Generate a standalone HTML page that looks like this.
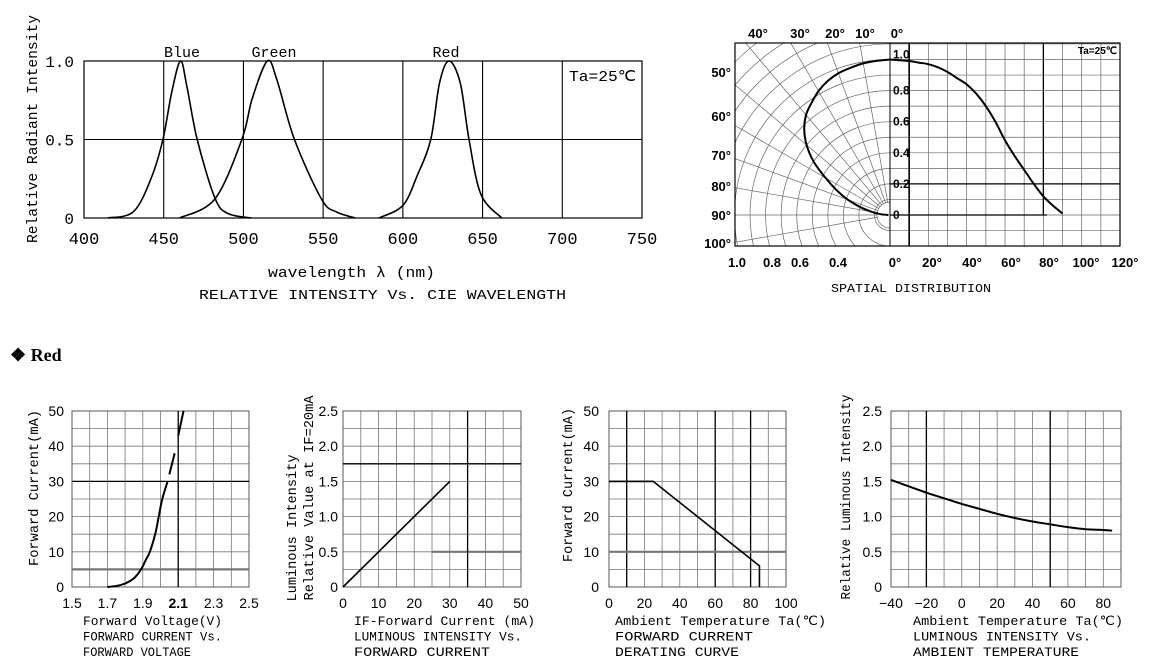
<!DOCTYPE html>
<html><head><meta charset="utf-8"><style>
html,body{margin:0;padding:0;background:#fff;}
svg{display:block;}
.mono{font-family:"Liberation Mono",monospace;}
.sans{font-family:"Liberation Sans",sans-serif;}
.serif{font-family:"Liberation Serif",serif;}
</style></head><body>
<svg id="root" width="1152" height="670" viewBox="0 0 1152 670" xmlns="http://www.w3.org/2000/svg">
<defs><clipPath id="polclip"><rect x="735" y="43" width="155" height="203"/></clipPath></defs>
<g id="g1"></g>
<g id="g2"></g>
<text x="10" y="361" class="serif" font-size="18" font-weight="bold">❖ Red</text>
<g id="gA"></g>
<g id="gB"></g>
<g id="gC"></g>
<g id="gD"></g>
</svg>
<script>
// ---- data ----
const blueWl = [415,431,442,449.5,455,460.5,464.5,471,482,490,505];
const blueVal = [0,0.04,0.25,0.5,0.8,1.0,0.84,0.5,0.13,0.03,0];
const greenWl = [460,482,499,505.5,515,521,532,549,558,570];
const greenVal = [0,0.12,0.5,0.76,1.0,0.88,0.5,0.12,0.04,0];
const redWl = [585,600,609,617.5,623,629,636,641.5,649,662];
const redVal = [0,0.08,0.27,0.5,0.86,1.0,0.86,0.5,0.15,0];
const spectrumXTicks = [400,450,500,550,600,650,700,750];
const spectrumYTicks = [0,0.5,1.0];
const spatialAngles = [0,5,10,15,20,25,30,35,40,45,50,55,60,65,70,75,80,85,90];
const spatialValues = [1.0,0.995,0.99,0.98,0.97,0.95,0.92,0.88,0.84,0.78,0.70,0.60,0.48,0.38,0.29,0.20,0.12,0.06,0.01];
const ivVoltage = [1.70,1.75,1.80,1.85,1.89,1.92,1.94,1.97,1.99,2.01,2.04];
const ivCurrent = [0,0.3,1,2.5,5,8,10,15,20,25,30];
const ivDash1V = [2.05,2.08]; const ivDash1I = [32,38];
const ivDash2V = [2.10,2.13]; const ivDash2I = [43,50];
const lumCurrent = [0,30]; const lumValue = [0,1.5];
const deratTemp = [0,25,85,85]; const deratCurrent = [30,30,6,0];
const tempAxis = [-40,-30,-20,-10,0,10,20,30,40,50,60,70,80,85];
const tempLum = [1.52,1.43,1.34,1.26,1.18,1.11,1.04,0.98,0.93,0.89,0.85,0.82,0.81,0.80];

const NS="http://www.w3.org/2000/svg";
function el(parent,tag,attrs){const e=document.createElementNS(NS,tag);for(const k in attrs)e.setAttribute(k,attrs[k]);parent.appendChild(e);return e;}
function line(p,x1,y1,x2,y2,st,w){return el(p,'line',{x1,y1,x2,y2,stroke:st||'#000','stroke-width':w||1});}
function txt(p,x,y,s,cls,size,anchor,len,extra){const t=el(p,'text',{x,y,'class':cls,'font-size':size,'text-anchor':anchor||'start'});if(len){t.setAttribute('textLength',len);t.setAttribute('lengthAdjust','spacingAndGlyphs');}if(extra)for(const k in extra)t.setAttribute(k,extra[k]);t.textContent=s;return t;}
function smooth(pts){if(pts.length<3)return 'M'+pts.map(p=>p.join(',')).join('L');let d='M'+pts[0][0]+','+pts[0][1];for(let i=0;i<pts.length-1;i++){const p0=pts[i-1]||pts[i],p1=pts[i],p2=pts[i+1],p3=pts[i+2]||p2;const c1=[p1[0]+(p2[0]-p0[0])/6,p1[1]+(p2[1]-p0[1])/6],c2=[p2[0]-(p3[0]-p1[0])/6,p2[1]-(p3[1]-p1[1])/6];d+='C'+c1+' '+c2+' '+p2;}return d;}

// ---- Chart 1 ----
(function(){
const g=document.getElementById('g1');
const X=v=>84+(v-400)*558/350, Y=v=>218-v*157;
const r=el(g,'rect',{x:84,y:61,width:558,height:157,fill:'none',stroke:'#000','stroke-width':1.2});

spectrumXTicks.forEach(v=>{if(v>400&&v<750){const l=line(g,X(v),61,X(v),218,'#000',1.1);}
 const t=txt(g,X(v),244,String(v),'mono',17,'middle');});
spectrumYTicks.forEach(v=>{if(v>0&&v<1){const l=line(g,84,Y(v),642,Y(v),'#000',1.1);}
 const t=txt(g,74,Y(v)+6,v===0?'0':v.toFixed(1),'mono',16,'end');});
[[blueWl,blueVal,'blue-spectrum-curve'],[greenWl,greenVal,'green-spectrum-curve'],[redWl,redVal,'red-spectrum-curve']].forEach(s=>{
 const p=el(g,'path',{d:smooth(s[0].map((w,i)=>[X(w),Y(s[1][i])])),fill:'none',stroke:'#000','stroke-width':1.6});
 });
let t;
t=txt(g,182,57,'Blue','mono',15,'middle');
t=txt(g,274,57,'Green','mono',15,'middle');
t=txt(g,446,57,'Red','mono',15,'middle');
t=txt(g,569,81,'Ta=25℃','mono',15,'start',67);
t=txt(g,0,0,'Relative Radiant Intensity','mono',15,'middle',228,{transform:'translate(37,129) rotate(-90)'});
t=txt(g,268,277,'wavelength λ  (nm)','mono',15,'start',167);
t=txt(g,199,299,'RELATIVE INTENSITY Vs. CIE WAVELENGTH','mono',14,'start',367);
})();

// ---- Chart 2 polar ----
(function(){
const g=document.getElementById('g2');
const cx=890,cy=215,R=155.5;
const XA=a=>890+a*1.917, YV=v=>215-v*R;
const cg=el(g,'g',{'clip-path':'url(#polclip)'});

for(let k=1;k<=15;k++){const c=el(cg,'circle',{cx,cy,r:k*0.1*R,fill:'none',stroke:'#666','stroke-width':0.7});}
for(let a=0;a<=100;a+=10){const rad=a*Math.PI/180;const l=line(cg,cx-13*Math.sin(rad),cy-13*Math.cos(rad),cx-300*Math.sin(rad),cy-300*Math.cos(rad),'#666',0.7);}
const wc=el(cg,'circle',{cx,cy,r:13,fill:'#fff',stroke:'#666','stroke-width':0.7});
for(let k=0;k<=12;k++){const l=line(g,XA(k*10),43,XA(k*10),246,'#666',0.7);}
for(let k=-1;k<=11;k++){const l=line(g,890,YV(k/10),1120,YV(k/10),'#666',0.7);}
let l;
l=line(g,XA(10),43,XA(10),246,'#000',1.6);
l=line(g,XA(80),43,XA(80),215,'#000',1.3);
l=line(g,890,YV(0.2),1120,YV(0.2),'#000',1.3);
l=line(g,890,YV(0),1047,YV(0),'#000',1.3);
l=line(g,890,43,890,246,'#000',1);
const fr=el(g,'rect',{x:735,y:43,width:385,height:203,fill:'none',stroke:'#000','stroke-width':1.2});
const pl=el(g,'path',{d:smooth(spatialAngles.map((a,i)=>{const rad=a*Math.PI/180;return [cx-spatialValues[i]*R*Math.sin(rad),cy-spatialValues[i]*R*Math.cos(rad)];})),fill:'none',stroke:'#000','stroke-width':2});

const pr=el(g,'path',{d:smooth(spatialAngles.map((a,i)=>[XA(a),YV(spatialValues[i])])),fill:'none',stroke:'#000','stroke-width':2});

[[1.0,'1.0'],[0.8,'0.8'],[0.6,'0.6'],[0.4,'0.4'],[0.2,'0.2'],[0,'0']].forEach(v=>{const t=txt(g,893,YV(v[0])+(v[0]===1?-1:4),v[1],'sans',12,'start',null,{'font-weight':'bold'});});
[['40°',758],['30°',800],['20°',835],['10°',865],['0°',897]].forEach(v=>{const t=txt(g,v[1],38,v[0],'sans',13,'middle',null,{'font-weight':'bold'});});
[['50°',77],['60°',121],['70°',160],['80°',191],['90°',220],['100°',248]].forEach(v=>{const t=txt(g,731,v[1],v[0],'sans',13,'end',null,{'font-weight':'bold'});});
[['1.0',737],['0.8',772],['0.6',800],['0.4',838],['0°',895],['20°',932],['40°',972],['60°',1011],['80°',1049],['100°',1086],['120°',1125]].forEach(v=>{const t=txt(g,v[1],267,v[0],'sans',13,'middle',null,{'font-weight':'bold'});});
let t=txt(g,1117,54,'Ta=25℃','sans',10,'end',null,{'font-weight':'bold'});
t=txt(g,831,292,'SPATIAL DISTRIBUTION','mono',12,'start',160);
})();

// ---- bottom charts ----
function smallChart(id,L,R,xmin,xmax,xstep,ymin,ymax,ystep){
 const g=document.getElementById(id),T=411,B=587;
 const X=v=>L+(v-xmin)*(R-L)/(xmax-xmin), Y=v=>B-(v-ymin)*(B-T)/(ymax-ymin);
 for(let v=xmin;v<=xmax+1e-9;v+=xstep){const l=line(g,X(v),T,X(v),B,'#777',0.8);}
 for(let v=ymin;v<=ymax+1e-9;v+=ystep){const l=line(g,L,Y(v),R,Y(v),'#777',0.8);}
 const r=el(g,'rect',{x:L,y:T,width:R-L,height:B-T,fill:'none',stroke:'#555','stroke-width':1});
 return {g,X,Y,T,B,L,R};
}
function heavy(c,x1,y1,x2,y2,col,w){const l=line(c.g,x1,y1,x2,y2,col,w);}
function ylab(c,x,vals,fmt){vals.forEach(v=>{const t=txt(c.g,x,c.Y(v)+5,fmt(v),'sans',14,'end');});}
function xlab(c,vals,fmt,bold){vals.forEach(v=>{const t=txt(c.g,c.X(v),608,fmt(v),'sans',14,'middle',null,bold&&bold(v)?{'font-weight':'bold'}:null);});}
function caps(c,x,lines){lines.forEach((s,i)=>{const t=txt(c.g,x,625+i*15.5,s[0],'mono',13,'start',s[1]);});}
function ytitle(c,x,cyy,s,len){const t=txt(c.g,0,0,s,'mono',14,'middle',len,{transform:'translate('+x+','+cyy+') rotate(-90)'});}

// A
(function(){
const c=smallChart('gA',72,249,1.5,2.5,0.1,0,50,5);
heavy(c,c.L,c.Y(30),c.R,c.Y(30),'#000',1.3);
heavy(c,c.L,c.Y(5),c.R,c.Y(5),'#777',2.2);
heavy(c,c.X(2.1),c.T,c.X(2.1),c.B,'#000',1.3);
let p=el(c.g,'path',{d:smooth(ivVoltage.map((v,i)=>[c.X(v),c.Y(ivCurrent[i])])),fill:'none',stroke:'#000','stroke-width':2});
p=el(c.g,'path',{d:'M'+c.X(ivDash1V[0])+','+c.Y(ivDash1I[0])+'L'+c.X(ivDash1V[1])+','+c.Y(ivDash1I[1]),stroke:'#000','stroke-width':2});
p=el(c.g,'path',{d:'M'+c.X(ivDash2V[0])+','+c.Y(ivDash2I[0])+'L'+c.X(ivDash2V[1])+','+c.Y(ivDash2I[1]),stroke:'#000','stroke-width':2});
ylab(c,64,[0,10,20,30,40,50],v=>String(v));
xlab(c,[1.5,1.7,1.9,2.1,2.3,2.5],v=>v.toFixed(1),v=>Math.abs(v-2.1)<1e-6);
caps(c,83,[['Forward Voltage(V)',139],['FORWARD CURRENT Vs.',139],['FORWARD VOLTAGE',108]]);
ytitle(c,38,488,'Forward Current(mA)',156);
})();
// B
(function(){
const c=smallChart('gB',343,521,0,50,5,0,2.5,0.25);
heavy(c,c.L,c.Y(1.75),c.R,c.Y(1.75),'#000',1.3);
heavy(c,c.X(25),c.Y(0.5),c.R,c.Y(0.5),'#777',2.2);
heavy(c,c.X(35),c.T,c.X(35),c.B,'#000',1.3);
const p=el(c.g,'path',{d:'M'+lumCurrent.map((v,i)=>c.X(v)+','+c.Y(lumValue[i])).join('L'),fill:'none',stroke:'#000','stroke-width':1.6});
ylab(c,338,[0,0.5,1.0,1.5,2.0,2.5],v=>v===0?'0':v.toFixed(1));
xlab(c,[0,10,20,30,40,50],v=>String(v));
caps(c,354,[['IF-Forward Current (mA)',181],['LUMINOUS INTENSITY Vs.',168],['FORWARD CURRENT',136]]);
ytitle(c,296,528,'Luminous Intensity',147);
ytitle(c,313,498,'Relative Value at IF=20mA',205);
})();
// C
(function(){
const c=smallChart('gC',609,786,0,100,10,0,50,5);
[10,60,80].forEach(v=>heavy(c,c.X(v),c.T,c.X(v),c.B,'#000',1.3));
heavy(c,c.L,c.Y(30),c.X(25),c.Y(30),'#000',1.3);
heavy(c,c.L,c.Y(10),c.R,c.Y(10),'#777',2.2);
const p=el(c.g,'path',{d:'M'+deratTemp.map((v,i)=>c.X(v)+','+c.Y(deratCurrent[i])).join('L'),fill:'none',stroke:'#000','stroke-width':1.6});
ylab(c,599,[0,10,20,30,40,50],v=>String(v));
xlab(c,[0,20,40,60,80,100],v=>String(v));
caps(c,615,[['Ambient Temperature Ta(℃)',211],['FORWARD CURRENT',138],['DERATING CURVE',124]]);
ytitle(c,572,485,'Forward Current(mA)',154);
})();
// D
(function(){
const c=smallChart('gD',891,1121,-40,90,10,0,2.5,0.25);
heavy(c,c.X(-20),c.T,c.X(-20),c.B,'#000',1.3);
heavy(c,c.X(50),c.T,c.X(50),c.B,'#000',1.3);
const p=el(c.g,'path',{d:smooth(tempAxis.map((v,i)=>[c.X(v),c.Y(tempLum[i])])),fill:'none',stroke:'#000','stroke-width':2});
ylab(c,882,[0,0.5,1.0,1.5,2.0,2.5],v=>v===0?'0':v.toFixed(1));
xlab(c,[-40,-20,0,20,40,60,80],v=>v<0?'−'+(-v):String(v));
caps(c,913,[['Ambient Temperature Ta(℃)',210],['LUMINOUS INTENSITY Vs.',178],['AMBIENT TEMPERATURE',166]]);
ytitle(c,850,497,'Relative Luminous Intensity',205);
})();
</script>
</body></html>
